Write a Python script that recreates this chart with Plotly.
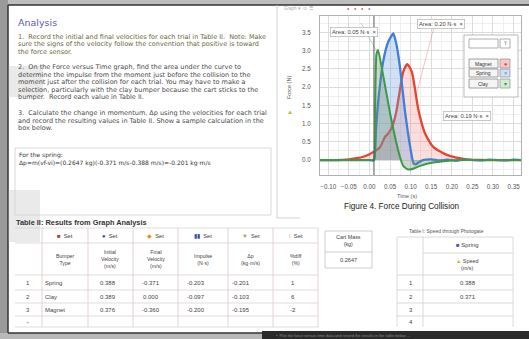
import plotly.graph_objects as go

# ---------------- data ----------------
time_magnet = [-0.12, -0.08, -0.05, -0.03, -0.015, 0.0, 0.011, 0.026, 0.038, 0.046, 0.058, 0.066,
               0.074, 0.082, 0.092, 0.103, 0.111, 0.119, 0.135, 0.155, 0.188, 0.236, 0.28, 0.368]
force_magnet = [0.0, 0.0, 0.02, 0.05, 0.09, 0.16, 0.23, 0.36, 0.64, 0.73, 1.0, 1.37,
                1.92, 2.42, 2.63, 2.42, 1.92, 1.37, 0.73, 0.36, 0.14, 0.02, 0.0, 0.0]

time_spring = [-0.12, -0.06, 0.0, 0.011, 0.016, 0.0216, 0.034, 0.046, 0.058, 0.066, 0.074, 0.086,
               0.099, 0.107, 0.112, 0.12, 0.13, 0.15, 0.17, 0.19, 0.21, 0.23, 0.25, 0.27, 0.29,
               0.31, 0.33, 0.35, 0.368]
force_spring = [0.0, 0.0, 0.0, 0.0, 0.85, 1.64, 2.74, 3.25, 3.47, 3.15, 2.56, 1.37,
                0.36, -0.09, -0.12, -0.06, 0.0, 0.02, -0.01, 0.01, -0.02, 0.01, 0.0, -0.01, 0.01,
                0.0, -0.01, 0.01, 0.0]

time_clay = [-0.12, -0.06, 0.0, 0.011, 0.014, 0.017, 0.021, 0.034, 0.05, 0.062, 0.074, 0.082,
             0.094, 0.108, 0.123, 0.154, 0.18, 0.22, 0.28, 0.368]
force_clay = [0.0, 0.0, 0.0, 0.0, 1.5, 2.9, 3.02, 2.28, 1.29, 0.64, 0.09, -0.16,
              -0.26, -0.23, -0.16, -0.07, -0.03, 0.0, 0.0, 0.0]

cursor_t = 0.011
area_labels = ["Area: 0.05 N·s", "Area: 0.20 N·s", "Area: 0.19 N·s"]
legend_names = ["Magnet", "Spring", "Clay"]

bumper_types = ["Spring", "Clay", "Magnet"]
initial_v = ["0.388", "0.389", "0.376"]
final_v = ["-0.371", "0.000", "-0.360"]
impulse = ["-0.203", "-0.097", "-0.200"]
delta_p = ["-0.201", "-0.103", "-0.195"]
pct_diff = ["1", "6", "-2"]
cart_mass = "0.2647"
gate_trials = ["1", "2", "3", "4"]
gate_speeds = ["0.388", "0.371", "", ""]

# ---------------- geometry helpers ----------------
W, H = 529, 339
L, R, T, B = 320, 521, 16, 175
FONT = "Liberation Sans, Arial, sans-serif"
BODY = "DejaVu Sans, Verdana, sans-serif"


def X(px):
    return (px - L) / (R - L)


def Y(py):
    return (B - py) / (B - T)


fig = go.Figure()

fig.add_trace(go.Scatter(x=time_magnet, y=force_magnet, mode="lines", name="Magnet",
                         line=dict(color="#e8432c", width=2.3, shape="spline", smoothing=0.6),
                         fill="tozeroy", fillcolor="rgba(240,120,110,0.25)"))
fig.add_trace(go.Scatter(x=time_spring, y=force_spring, mode="lines", name="Spring",
                         line=dict(color="#3f7fd8", width=2.3, shape="spline", smoothing=0.5),
                         fill="tozeroy", fillcolor="rgba(110,160,225,0.32)"))
fig.add_trace(go.Scatter(x=time_clay, y=force_clay, mode="lines", name="Clay",
                         line=dict(color="#3a9a45", width=2, shape="spline", smoothing=0.5),
                         fill="tozeroy", fillcolor="rgba(110,140,110,0.34)"))

shapes = []
ann = []


def rect(x0, y0, x1, y1, line="#cccccc", fill=None, width=0.8, layer="below"):
    d = dict(type="rect", xref="paper", yref="paper", x0=X(x0), x1=X(x1), y0=Y(y0), y1=Y(y1),
             line=dict(color=line, width=width), layer=layer)
    if fill:
        d["fillcolor"] = fill
    if width == 0:
        d["line"] = dict(width=0)
    shapes.append(d)


def hline(x0, x1, y, color="#cccccc", width=0.8, layer="below"):
    shapes.append(dict(type="line", xref="paper", yref="paper", x0=X(x0), x1=X(x1), y0=Y(y), y1=Y(y),
                       line=dict(color=color, width=width), layer=layer))


def vline(x, y0, y1, color="#cccccc", width=0.8, layer="below"):
    shapes.append(dict(type="line", xref="paper", yref="paper", x0=X(x), x1=X(x), y0=Y(y0), y1=Y(y1),
                       line=dict(color=color, width=width), layer=layer))


def seg(x0, y0, x1, y1, color, width=0.8, layer="above"):
    shapes.append(dict(type="line", xref="paper", yref="paper", x0=X(x0), x1=X(x1), y0=Y(y0), y1=Y(y1),
                       line=dict(color=color, width=width), layer=layer))


def text(x, y, s, size=5.5, color="#444444", xanchor="left", family=FONT, **kw):
    d = dict(x=X(x), y=Y(y), xref="paper", yref="paper", text=s, showarrow=False,
             font=dict(size=size, color=color, family=family), xanchor=xanchor, yanchor="middle",
             borderpad=0)
    d.update(kw)
    ann.append(d)


# ---- page frame / photo background ----
rect(0, 0, W, 5, fill="#bdbdbd", width=0)
rect(0, 0, 8, H, fill="#9a9a9a", width=0)
rect(0, 333, 262, H, fill="#b8b8b8", width=0)
rect(262, 331, W, H, fill="#2b2b2b", width=0)
hline(8, W, 5, color="#333333", width=1.5)
vline(8, 5, 333, color="#333333", width=1.5)
hline(8, 262, 333, color="#333333", width=1.5)
rect(8, 66, 43, 97, fill="rgba(160,160,160,0.22)", width=0)
rect(8, 190, 40, 242, fill="rgba(160,160,160,0.22)", width=0)

# ---- left text panel ----
text(17, 22, "Analysis", size=9.5, color="#5a5ab4", family=BODY)
step1 = ["1.  Record the initial and final velocities for each trial in Table II.  Note: Make",
         "sure the signs of the velocity follow the convention that positive is toward",
         "the force sensor."]
step2 = ["2.  On the Force versus Time graph, find the area under the curve to",
         "determine the impulse from the moment just before the collision to the",
         "moment just after the collision for each trial. You may have to make a",
         "selection, particularly with the clay bumper because the cart sticks to the",
         "bumper.  Record each value in Table II."]
step3 = ["3.  Calculate the change in momentum, \u0394p using the velocities for each trial",
         "and record the resulting values in Table II. Show a sample calculation in the",
         "box below."]
for i, s in enumerate(step1):
    text(17, 37 + 7.5 * i, s, size=6.5, color="#66683c", family=BODY)
for i, s in enumerate(step2):
    text(17, 67 + 7.6 * i, s, size=6.5, color="#4a4a4a", family=BODY)
for i, s in enumerate(step3):
    text(17, 113 + 7.5 * i, s, size=6.5, color="#4a4a4a", family=BODY)

rect(15, 148, 271, 215, line="#d0d0d0")
text(18, 155, "For the spring:", size=6, color="#333333", family=BODY)
text(18, 162.5, "\u0394p=m(vf-vi)=(0.2647 kg)(-0.371 m/s-0.388 m/s)=-0.201 kg\u00b7m/s", size=6,
     color="#333333", family=BODY)

vline(277, 5, 218, color="#c8c8c8")
hline(277, 300, 218, color="#c8c8c8")

# ---- toolbar above the chart ----
text(283, 8, "Graph \u25be  \u2299 \u2630", size=4.5, color="#aaaaaa")
text(346, 8, "\u25cf", size=4, color="#e04040")
text(353, 8, "\u25cf", size=4, color="#e04040")
text(360, 8, "\u25cf", size=4, color="#e04040")
text(367, 8, "\u25cf", size=4, color="#5080d0")

# ---- chart decorations ----
shapes.append(dict(type="line", xref="x", yref="paper", x0=cursor_t, x1=cursor_t, y0=0, y1=1,
                   line=dict(color="#555555", width=1), layer="above"))
seg(361, 23, 376, 50, "rgba(60,160,60,0.45)")
seg(434, 27, 417, 92, "rgba(235,110,110,0.5)")

text(289, 88, "Force (N)", size=5.5, color="#555555", xanchor="center", textangle=-90)
text(290, 112, "\u25b2", size=6, color="#a8c030", xanchor="center")
text(407, 196, "Time (s)", size=5.5, color="#555555", xanchor="center")
text(402, 206, "Figure 4. Force During Collision", size=8.2, color="#222222", xanchor="center")

for (cx, cy), lab in zip([(354, 32), (441, 24), (467, 116)], area_labels):
    ann.append(dict(x=X(cx), y=Y(cy), xref="paper", yref="paper", text=lab + "  \u00d7",
                    showarrow=False, font=dict(size=5.8, color="#444444", family=FONT),
                    bgcolor="white", bordercolor="#bbbbbb", borderwidth=0.8, borderpad=1.2,
                    xanchor="center", yanchor="middle"))

# custom legend
rect(464, 35, 518, 97, line="#aaaaaa", fill="white", layer="above")
rect(469, 39, 498, 48, line="#999999", fill="white", layer="above")
rect(500, 39, 510, 48, line="#999999", fill="white", layer="above")
text(505, 43.5, "Y", size=4.5, color="#555555", xanchor="center")
leg_rows = [(59, 68, "#f6c8c8", "#e03c3c", "\u25cf"),
            (69, 77, "#cfe0f5", "#3f7fd8", "\u00d7"),
            (79, 88, "#d3ecd3", "#3a9a45", "\u25be")]
for (y0, y1, bg, col, sym), name in zip(leg_rows, legend_names):
    rect(469, y0, 498, y1, line="#888888", fill="#f5f5f5", layer="above")
    rect(500, y0, 510, y1, line="#999999", fill=bg, layer="above")
    text(483.5, (y0 + y1) / 2, name, size=5, color="#333333", xanchor="center")
    text(505, (y0 + y1) / 2, sym, size=5.5, color=col, xanchor="center")

# ---- Table II ----
text(15, 222, "<b>Table II: Results from Graph Analysis</b>", size=7.4, color="#333333")
col_edges = [15, 42, 88, 133, 178, 228, 273, 318]
row_lines = [228, 243, 275, 290, 303, 316, 327]
for yl in row_lines:
    hline(15, 318, yl, color="#d4d4d4")
for xe in col_edges[1:]:
    vline(xe, 228, 327, color="#dcc8c8")
icons = [("\u25a0", "#c0302a"), ("\u25cf", "#2c3e9e"), ("\u25c6", "#e8892c"),
         ("\u25ae\u25ae", "#3a4fa0"), ("\u25bc", "#7cb342"), ("I", "#f0a070")]
headers = ["Bumper<br>Type", "Initial<br>Velocity<br>(m/s)", "Final<br>Velocity<br>(m/s)",
           "Impulse<br>(N\u00b7s)", "\u0394p<br>(kg\u00b7m/s)", "%diff<br>(%)"]
for i in range(6):
    cx = (col_edges[i + 1] + col_edges[i + 2]) / 2
    sym, col = icons[i]
    text(cx, 235.5, '<span style="color:%s">%s</span>  Set' % (col, sym), size=5.8,
         color="#444444", xanchor="center")
    text(cx, 259, headers[i], size=5.2, color="#444444", xanchor="center")

row_y = [283, 296.5, 310]
val_x = [108, 151, 196, 241, 293]
for r in range(3):
    text(28, row_y[r], str(r + 1), size=6, color="#444444", xanchor="center")
    text(44, row_y[r], bumper_types[r], size=6, color="#444444")
    vals = [initial_v[r], final_v[r], impulse[r], delta_p[r], pct_diff[r]]
    for vx, v in zip(val_x, vals):
        text(vx, row_y[r], v, size=6, color="#444444", xanchor="center")
text(28, 322, "+", size=6, color="#aaaaaa", xanchor="center")

# Cart mass box
rect(325, 231, 372, 268, line="#c0c0c0")
hline(325, 372, 252, color="#c0c0c0")
text(348.5, 241, "Cart Mass<br>(kg)", size=5.4, color="#444444", xanchor="center")
text(348.5, 260, cart_mass, size=5.6, color="#444444", xanchor="center")

# ---- Table I ----
text(446, 231, "Table I: Speed through Photogate", size=5, color="#555555", xanchor="center")
for yl in [237, 275, 290, 303, 316]:
    hline(397, 513, yl, color="#d0d0d0")
hline(423, 513, 253, color="#d0d0d0")
for xe in [397, 423, 513]:
    vline(xe, 237, 327, color="#d0d0d0")
text(467, 245, '<span style="color:#5b4fc4">\u25a0</span> Spring', size=6, color="#444444", xanchor="center")
text(467, 264, '<span style="color:#b8c030">\u25b2</span> Speed<br>(m/s)', size=5.4, color="#444444",
     xanchor="center")
for i, (tr, sp) in enumerate(zip(gate_trials, gate_speeds)):
    yy = [283, 296.5, 310, 322][i]
    text(411, yy, tr, size=6, color="#444444", xanchor="center")
    if sp:
        text(468, yy, sp, size=6, color="#444444", xanchor="center")

# bottom dark bar text
text(275, 335.3, "\u2022  Plot the force versus time data and record the results in the table below ...",
     size=4, color="#888888")

fig.update_layout(
    width=W, height=H,
    margin=dict(l=L, r=W - R, t=T, b=H - B),
    paper_bgcolor="white", plot_bgcolor="white",
    showlegend=False,
    shapes=shapes, annotations=ann,
    font=dict(family=FONT, size=6, color="#555555"),
    xaxis=dict(range=[-0.12, 0.368], dtick=0.05, tick0=0, tickformat=".2f",
               showgrid=True, gridcolor="#dcdcdc", gridwidth=0.8, zeroline=False,
               showline=True, linecolor="#b0b0b0", mirror=True, ticks="",
               ticklabelstandoff=5, tickfont=dict(size=6.3, color="#555555"),
               minor=dict(dtick=0.025, showgrid=True, gridcolor="#efefef")),
    yaxis=dict(range=[-0.41, 3.95], dtick=0.5, tick0=0, tickformat=".1f",
               showgrid=True, gridcolor="#dcdcdc", gridwidth=0.8, zeroline=False,
               showline=True, linecolor="#b0b0b0", mirror=True, ticks="",
               ticklabelstandoff=7, tickfont=dict(size=6.3, color="#555555"),
               minor=dict(dtick=0.25, showgrid=True, gridcolor="#efefef")),
)

fig.write_html("out.html", config={"displayModeBar": False},
               post_script="document.body.style.margin='0';document.body.style.overflow='hidden';")
